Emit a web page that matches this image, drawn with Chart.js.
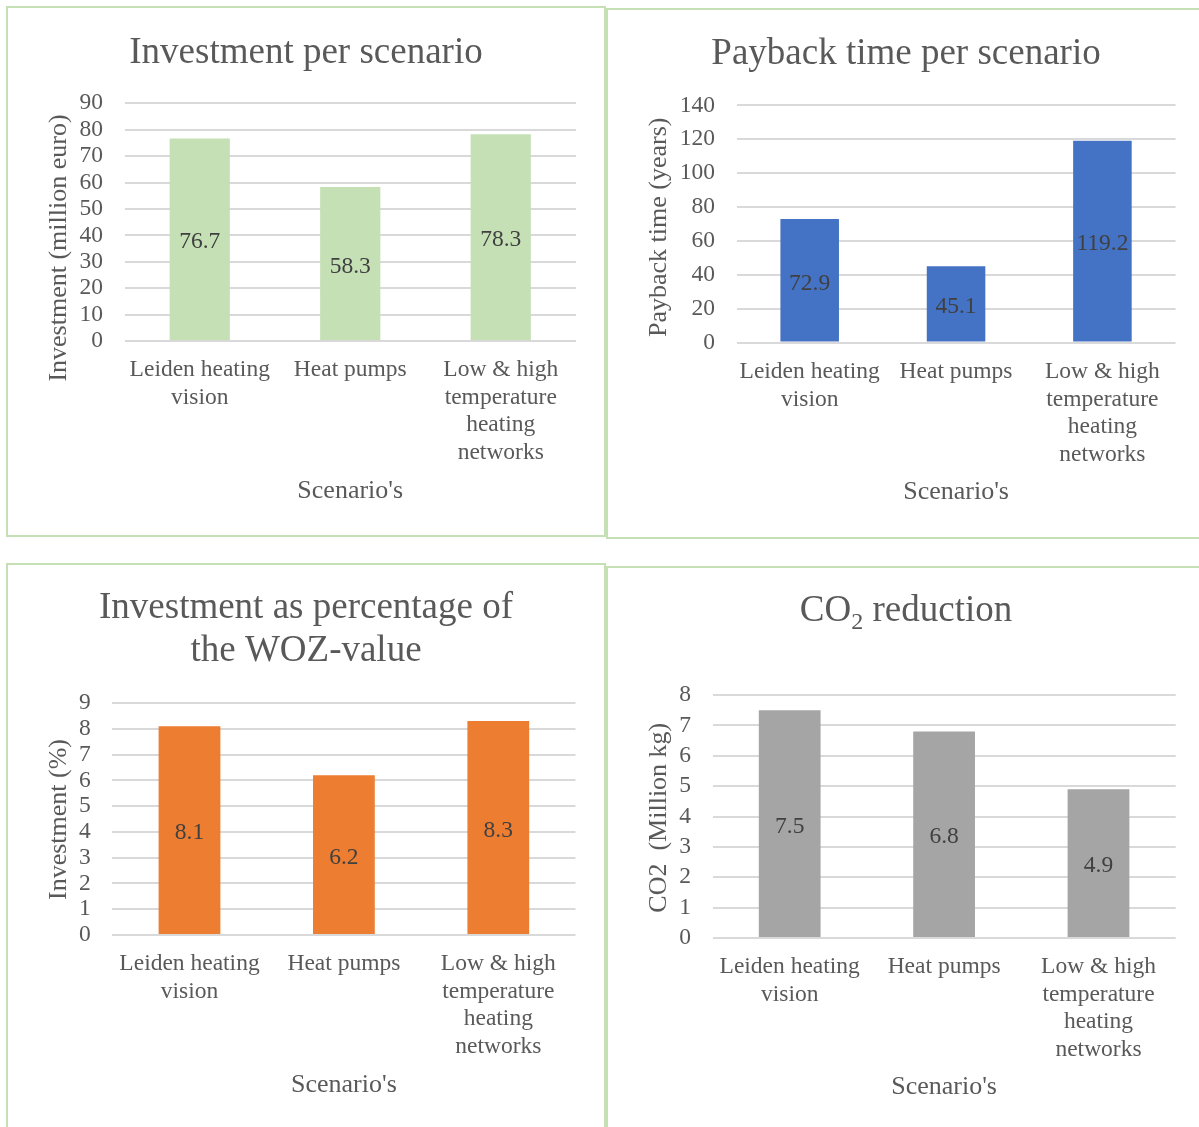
<!DOCTYPE html>
<html>
<head>
<meta charset="utf-8">
<title>Scenario comparison</title>
<script src="https://cdn.jsdelivr.net/npm/chart.js@4.4.1/dist/chart.umd.min.js"></script>
<style>
  body { margin: 0; background: #fff; overflow: hidden; }
  .panel { position: absolute; border: 2px solid #c5e0b4; width: 596px; background: #fff; }
  .panel canvas { display: block; }
  #p1 { left: 6px; top: 6px; height: 527px; }
  #p2 { left: 606px; top: 8px; height: 527px; }
  #p3 { left: 6px; top: 563px; height: 575px; }
  #p4 { left: 606px; top: 566px; height: 575px; }
</style>
</head>
<body>
<div class="panel" id="p1"><canvas id="investChart" width="596" height="527"></canvas></div>
<div class="panel" id="p2"><canvas id="paybackChart" width="596" height="527"></canvas></div>
<div class="panel" id="p3"><canvas id="wozChart" width="596" height="575"></canvas></div>
<div class="panel" id="p4"><canvas id="co2Chart" width="596" height="575"></canvas></div>

<script>
const scenarios = [['Leiden heating', 'vision'], ['Heat pumps'], ['Low & high', 'temperature', 'heating', 'networks']];

const investment = [76.7, 58.3, 78.3];      // million euro
const paybackYears = [72.9, 45.1, 119.2];   // years
const investmentPct = [8.1, 6.2, 8.3];      // % of WOZ-value
const co2Reduction = [7.5, 6.8, 4.9];       // million kg

// [min, max, step] for each value axis
const investmentTicks = [0, 90, 10];
const paybackTicks = [0, 140, 20];
const pctTicks = [0, 9, 1];
const co2Ticks = [0, 8, 1];

const SERIF = '"Liberation Serif", "Times New Roman", serif';
const TEXT = '#595959';

// draws "CO" + lowered "2" style runs, centred on cx
function drawRuns(ctx, runs, cx, y, size) {
  const parts = runs.map(r => typeof r === 'string' ? {text: r} : r);
  const fontFor = p => (p.sub ? size * 0.65 : size) + 'px ' + SERIF;
  let total = 0;
  parts.forEach(p => { ctx.font = fontFor(p); p.w = ctx.measureText(p.text).width; total += p.w; });
  let x = cx - total / 2;
  ctx.textAlign = 'left';
  parts.forEach(p => {
    ctx.font = fontFor(p);
    ctx.fillText(p.text, x, p.sub ? y + size * 0.22 : y);
    x += p.w;
  });
}

// chart title, rotated value-axis title and category-axis title
function panelText(cfg) {
  return {
    id: 'panelText',
    afterDraw(chart) {
      const {ctx, chartArea, width} = chart;
      ctx.save();
      ctx.fillStyle = TEXT;
      ctx.textBaseline = 'alphabetic';
      cfg.title.forEach(line => drawRuns(ctx, line.runs, width / 2, line.y, 37));

      ctx.font = '26px ' + SERIF;
      ctx.textAlign = 'center';
      ctx.fillText("Scenario's", (chartArea.left + chartArea.right) / 2, cfg.xTitleY);

      ctx.translate(cfg.yTitle.x, cfg.yTitle.y);
      ctx.rotate(-Math.PI / 2);
      ctx.textBaseline = 'middle';
      ctx.fillText(cfg.yTitle.text, 0, 0);
      ctx.restore();
    }
  };
}

// value printed in the middle of each bar
const barValues = {
  id: 'barValues',
  afterDatasetsDraw(chart) {
    const {ctx} = chart;
    const values = chart.data.datasets[0].data;
    ctx.save();
    ctx.font = '23.5px ' + SERIF;
    ctx.fillStyle = '#404040';
    ctx.textAlign = 'center';
    ctx.textBaseline = 'middle';
    chart.getDatasetMeta(0).data.forEach((bar, i) => {
      ctx.fillText(values[i].toFixed(1), bar.x, (bar.y + bar.base) / 2 + 3);
    });
    ctx.restore();
  }
};

function barChart(id, values, color, range, area, text) {
  const canvas = document.getElementById(id);
  return new Chart(canvas, {
    type: 'bar',
    data: {
      labels: scenarios,
      datasets: [{data: values, backgroundColor: color, categoryPercentage: 1, barPercentage: 0.4}]
    },
    options: {
      responsive: false,
      animation: false,
      devicePixelRatio: 1,
      layout: {padding: {left: 0, top: area.top, right: canvas.width - area.right, bottom: 0}},
      plugins: {legend: {display: false}, tooltip: {enabled: false}, title: {display: false}},
      scales: {
        x: {
          grid: {display: false},
          border: {display: false},
          ticks: {
            color: TEXT,
            font: {family: SERIF, size: 23.5, lineHeight: '27.5px'},
            padding: 7.5,
            maxRotation: 0,
            autoSkip: false
          },
          afterFit: s => { s.height = canvas.height - area.bottom; }
        },
        y: {
          min: range[0],
          max: range[1],
          grid: {color: '#d9d9d9', lineWidth: 2, drawTicks: false},
          border: {display: false},
          ticks: {
            stepSize: range[2],
            autoSkip: false,
            color: TEXT,
            font: {family: SERIF, size: 23.5, lineHeight: 1},
            padding: 21.5
          },
          afterFit: s => { s.width = area.left; }
        }
      }
    },
    plugins: [barValues, panelText(text)]
  });
}

barChart('investChart', investment, '#c5e0b4', investmentTicks,
  {left: 116.5, right: 568, top: 95.3, bottom: 333},
  {title: [{runs: ['Investment per scenario'], y: 55}],
   yTitle: {text: 'Investment (million euro)', x: 51.4, y: 240},
   xTitleY: 489.6});

barChart('paybackChart', paybackYears, '#4472c4', paybackTicks,
  {left: 128.5, right: 567.6, top: 95.4, bottom: 332.6},
  {title: [{runs: ['Payback time per scenario'], y: 53.7}],
   yTitle: {text: 'Payback time (years)', x: 51.2, y: 217.3},
   xTitleY: 489.3});

barChart('wozChart', investmentPct, '#ed7d31', pctTicks,
  {left: 104.3, right: 567.5, top: 138, bottom: 370},
  {title: [{runs: ['Investment as percentage of'], y: 52.9}, {runs: ['the WOZ-value'], y: 95.5}],
   yTitle: {text: 'Investment (%)', x: 50.8, y: 254.5},
   xTitleY: 526.6});

barChart('co2Chart', co2Reduction, '#a5a5a5', co2Ticks,
  {left: 104.5, right: 567.7, top: 127, bottom: 370},
  {title: [{runs: ['CO', {text: '2', sub: true}, ' reduction'], y: 52.8}],
   yTitle: {text: 'CO2  (Million kg)', x: 51.2, y: 249.7},
   xTitleY: 525.5});
</script>
</body>
</html>
